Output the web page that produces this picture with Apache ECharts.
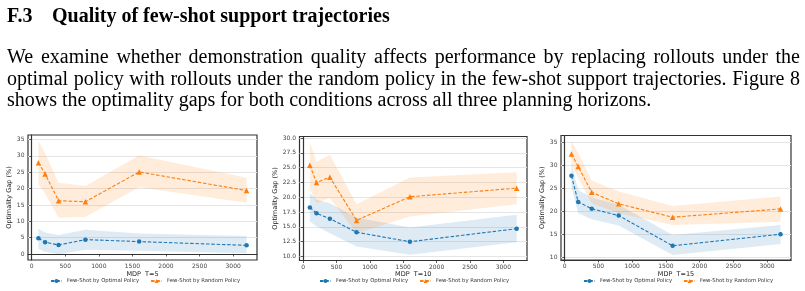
<!DOCTYPE html>
<html>
<head>
<meta charset="UTF-8">
<script src="https://cdn.jsdelivr.net/npm/echarts@6/dist/echarts.min.js"></script>
<style>
	body { margin: 0; background: #fff; }
	#main { position: absolute; left: 0; top: 0; width: 805px; height: 291px; }
	.txt { position: absolute; font-family: "Liberation Serif"; font-size: 20px; line-height: 20px; color: #000; white-space: nowrap; }
	.just { white-space: normal; text-align: justify; text-align-last: justify; }
</style>
<title></title>
</head>
<body>
<div id="main"></div>
<div class="txt" style="left:7px;top:5px;font-weight:bold;">F.3</div>
<div class="txt" style="left:52px;top:5px;font-weight:bold;">Quality of few-shot support trajectories</div>
<div class="txt just" style="left:7px;top:46px;width:793px;">We examine whether demonstration quality affects performance by replacing rollouts under the</div>
<div class="txt just" style="left:7px;top:67.5px;width:793px;">optimal policy with rollouts under the random policy in the few-shot support trajectories. Figure 8</div>
<div class="txt" style="left:7px;top:89px;">shows the optimality gaps for both conditions across all three planning horizons.</div>

<script type="text/javascript">
	var mdpSizes = [100, 200, 400, 800, 1600, 3200];
	var xTicks = [0, 500, 1000, 1500, 2000, 2500, 3000];
	var nameOpt = 'Few-Shot by Optimal Policy';
	var nameRnd = 'Few-Shot by Random Policy';

	// T=5
	var t5OptMean = [4.8, 3.6, 2.75, 4.4, 3.8, 2.65];
	var t5OptLow = [1.5, 0.7, -0.1, 1.3, 1.0, 0.2];
	var t5OptHigh = [7.7, 6.6, 5.8, 7.4, 6.3, 5.5];
	var t5RndMean = [27.9, 24.5, 16.3, 16.0, 25.1, 19.4];
	var t5RndLow = [21.3, 18.5, 11.1, 11.4, 20.4, 15.7];
	var t5RndHigh = [34.6, 30.8, 21.8, 20.8, 30.1, 23.3];
	var t5YTicks = [0, 5, 10, 15, 20, 25, 30, 35];

	// T=10
	var t10OptMean = [18.3, 17.3, 16.4, 14.1, 12.5, 14.7];
	var t10OptLow = [15.9, 15.1, 13.95, 11.7, 10.3, 12.4];
	var t10OptHigh = [20.7, 19.6, 19.0, 16.6, 14.9, 17.05];
	var t10RndMean = [25.4, 22.5, 23.4, 16.1, 20.1, 21.55];
	var t10RndLow = [21.3, 19.0, 19.9, 13.95, 16.75, 18.85];
	var t10RndHigh = [29.4, 26.0, 27.2, 18.85, 23.35, 24.25];
	var t10YTicks = [10, 12.5, 15, 17.5, 20, 22.5, 25, 27.5, 30];

	// T=15
	var t15OptMean = [27.7, 22.0, 20.55, 19.05, 12.5, 15.0];
	var t15OptLow = [25.2, 19.55, 18.25, 16.9, 10.5, 12.9];
	var t15OptHigh = [30.2, 24.6, 22.95, 21.4, 14.85, 17.0];
	var t15RndMean = [32.4, 29.7, 24.1, 21.6, 18.7, 20.5];
	var t15RndLow = [29.9, 27.2, 21.7, 19.55, 17.0, 17.7];
	var t15RndHigh = [35.3, 32.6, 26.65, 24.3, 21.15, 23.2];
	var t15YTicks = [10, 15, 20, 25, 30, 35];

	var panels = [
		{ title: 'MDP  T=5', grid: { left: 28, top: 135, width: 229, height: 125 }, yMin: -1.83, yMax: 36.4, yTicks: t5YTicks, dec: 0, nameGap: 12.5, legendLeft: 50,
			opt: [t5OptMean, t5OptLow, t5OptHigh], rnd: [t5RndMean, t5RndLow, t5RndHigh] },
		{ title: 'MDP  T=10', grid: { left: 299.5, top: 136.5, width: 227.5, height: 124 }, yMin: 9.33, yMax: 30.27, yTicks: t10YTicks, dec: 1, nameGap: 16, legendLeft: 319,
			opt: [t10OptMean, t10OptLow, t10OptHigh], rnd: [t10RndMean, t10RndLow, t10RndHigh] },
		{ title: 'MDP  T=15', grid: { left: 561, top: 135.5, width: 230, height: 124.5 }, yMin: 9.41, yMax: 36.43, yTicks: t15YTicks, dec: 0, nameGap: 10.5, legendLeft: 583,
			opt: [t15OptMean, t15OptLow, t15OptHigh], rnd: [t15RndMean, t15RndLow, t15RndHigh] }
	];

	var blue = '#1f77b4';
	var orange = '#ff7f0e';
	var font = 'DejaVu Sans';

	function pairs(vals) {
		return mdpSizes.map(function(x, i) { return [x, vals[i]]; });
	}

	// shaded band between low and high, drawn as one polygon through the axis scales
	function band(idx, low, high, color) {
		return {
			type: 'custom', xAxisIndex: idx, yAxisIndex: idx, silent: true, z: 1,
			data: mdpSizes.map(function(x, i) { return [x, low[i], high[i]]; }),
			renderItem: function(params, api) {
				if (params.dataIndex !== 0) return null;
				var pts = [];
				for (var i = 0; i < mdpSizes.length; i++) pts.push(api.coord([mdpSizes[i], high[i]]));
				for (var j = mdpSizes.length - 1; j >= 0; j--) pts.push(api.coord([mdpSizes[j], low[j]]));
				return {
					type: 'polygon',
					shape: { points: pts },
					style: { fill: color, opacity: 0.15 }
				};
			}
		};
	}

	function meanLine(idx, name, vals, color, symbol, size) {
		return {
			type: 'line', name: name, xAxisIndex: idx, yAxisIndex: idx,
			data: pairs(vals), symbol: symbol, symbolSize: size, z: 3,
			itemStyle: { color: color },
			lineStyle: { color: color, width: 1.1, type: [3.5, 1.8] }
		};
	}

	var option = { animation: false, grid: [], xAxis: [], yAxis: [], legend: [], series: [] };

	panels.forEach(function(p, idx) {
		option.grid.push({
			left: p.grid.left, top: p.grid.top, width: p.grid.width, height: p.grid.height,
			show: true, borderColor: '#333', borderWidth: 1.2, backgroundColor: 'transparent'
		});
		option.xAxis.push({
			type: 'value', gridIndex: idx, min: -55, max: 3355,
			name: p.title, nameLocation: 'middle', nameGap: 8,
			nameTextStyle: { fontSize: 6.5, color: '#222', fontFamily: font },
			axisLine: { show: true, lineStyle: { color: '#333', width: 1.2 } },
			axisTick: { show: true, length: 2.5, customValues: xTicks, lineStyle: { color: '#333', width: 0.8 } },
			axisLabel: {
				customValues: xTicks, fontSize: 6, color: '#444', fontFamily: font, margin: 3.5,
				formatter: function(v) { return String(v); }
			},
			splitLine: { show: false }
		});
		option.yAxis.push({
			type: 'value', gridIndex: idx, min: p.yMin, max: p.yMax,
			name: 'Optimality Gap (%)', nameLocation: 'middle', nameGap: p.nameGap,
			nameTextStyle: { fontSize: 6.5, color: '#222', fontFamily: font },
			axisLine: { show: true, lineStyle: { color: '#333', width: 1.2 } },
			axisTick: { show: true, length: 2.5, customValues: p.yTicks, lineStyle: { color: '#333', width: 0.8 } },
			axisLabel: {
				customValues: p.yTicks, fontSize: 6, color: '#444', fontFamily: font, margin: 3.5,
				formatter: function(v) { return v.toFixed(p.dec); }
			},
			splitLine: { show: true, lineStyle: { color: '#e5e5e5', width: 1 } }
		});
		option.legend.push({
			left: p.legendLeft, top: 278.5, padding: 0,
			itemWidth: 11, itemHeight: 5, itemGap: 11,
			data: [nameOpt, nameRnd],
			textStyle: { fontSize: 5.3, color: '#333', fontFamily: font }
		});
		option.series.push(
			band(idx, p.opt[1], p.opt[2], blue),
			band(idx, p.rnd[1], p.rnd[2], orange),
			meanLine(idx, nameOpt, p.opt[0], blue, 'circle', 4.5),
			meanLine(idx, nameRnd, p.rnd[0], orange, 'triangle', 5.5)
		);
	});

	var myChart = echarts.init(document.getElementById('main'));
	myChart.setOption(option);
</script>
</body>
</html>
